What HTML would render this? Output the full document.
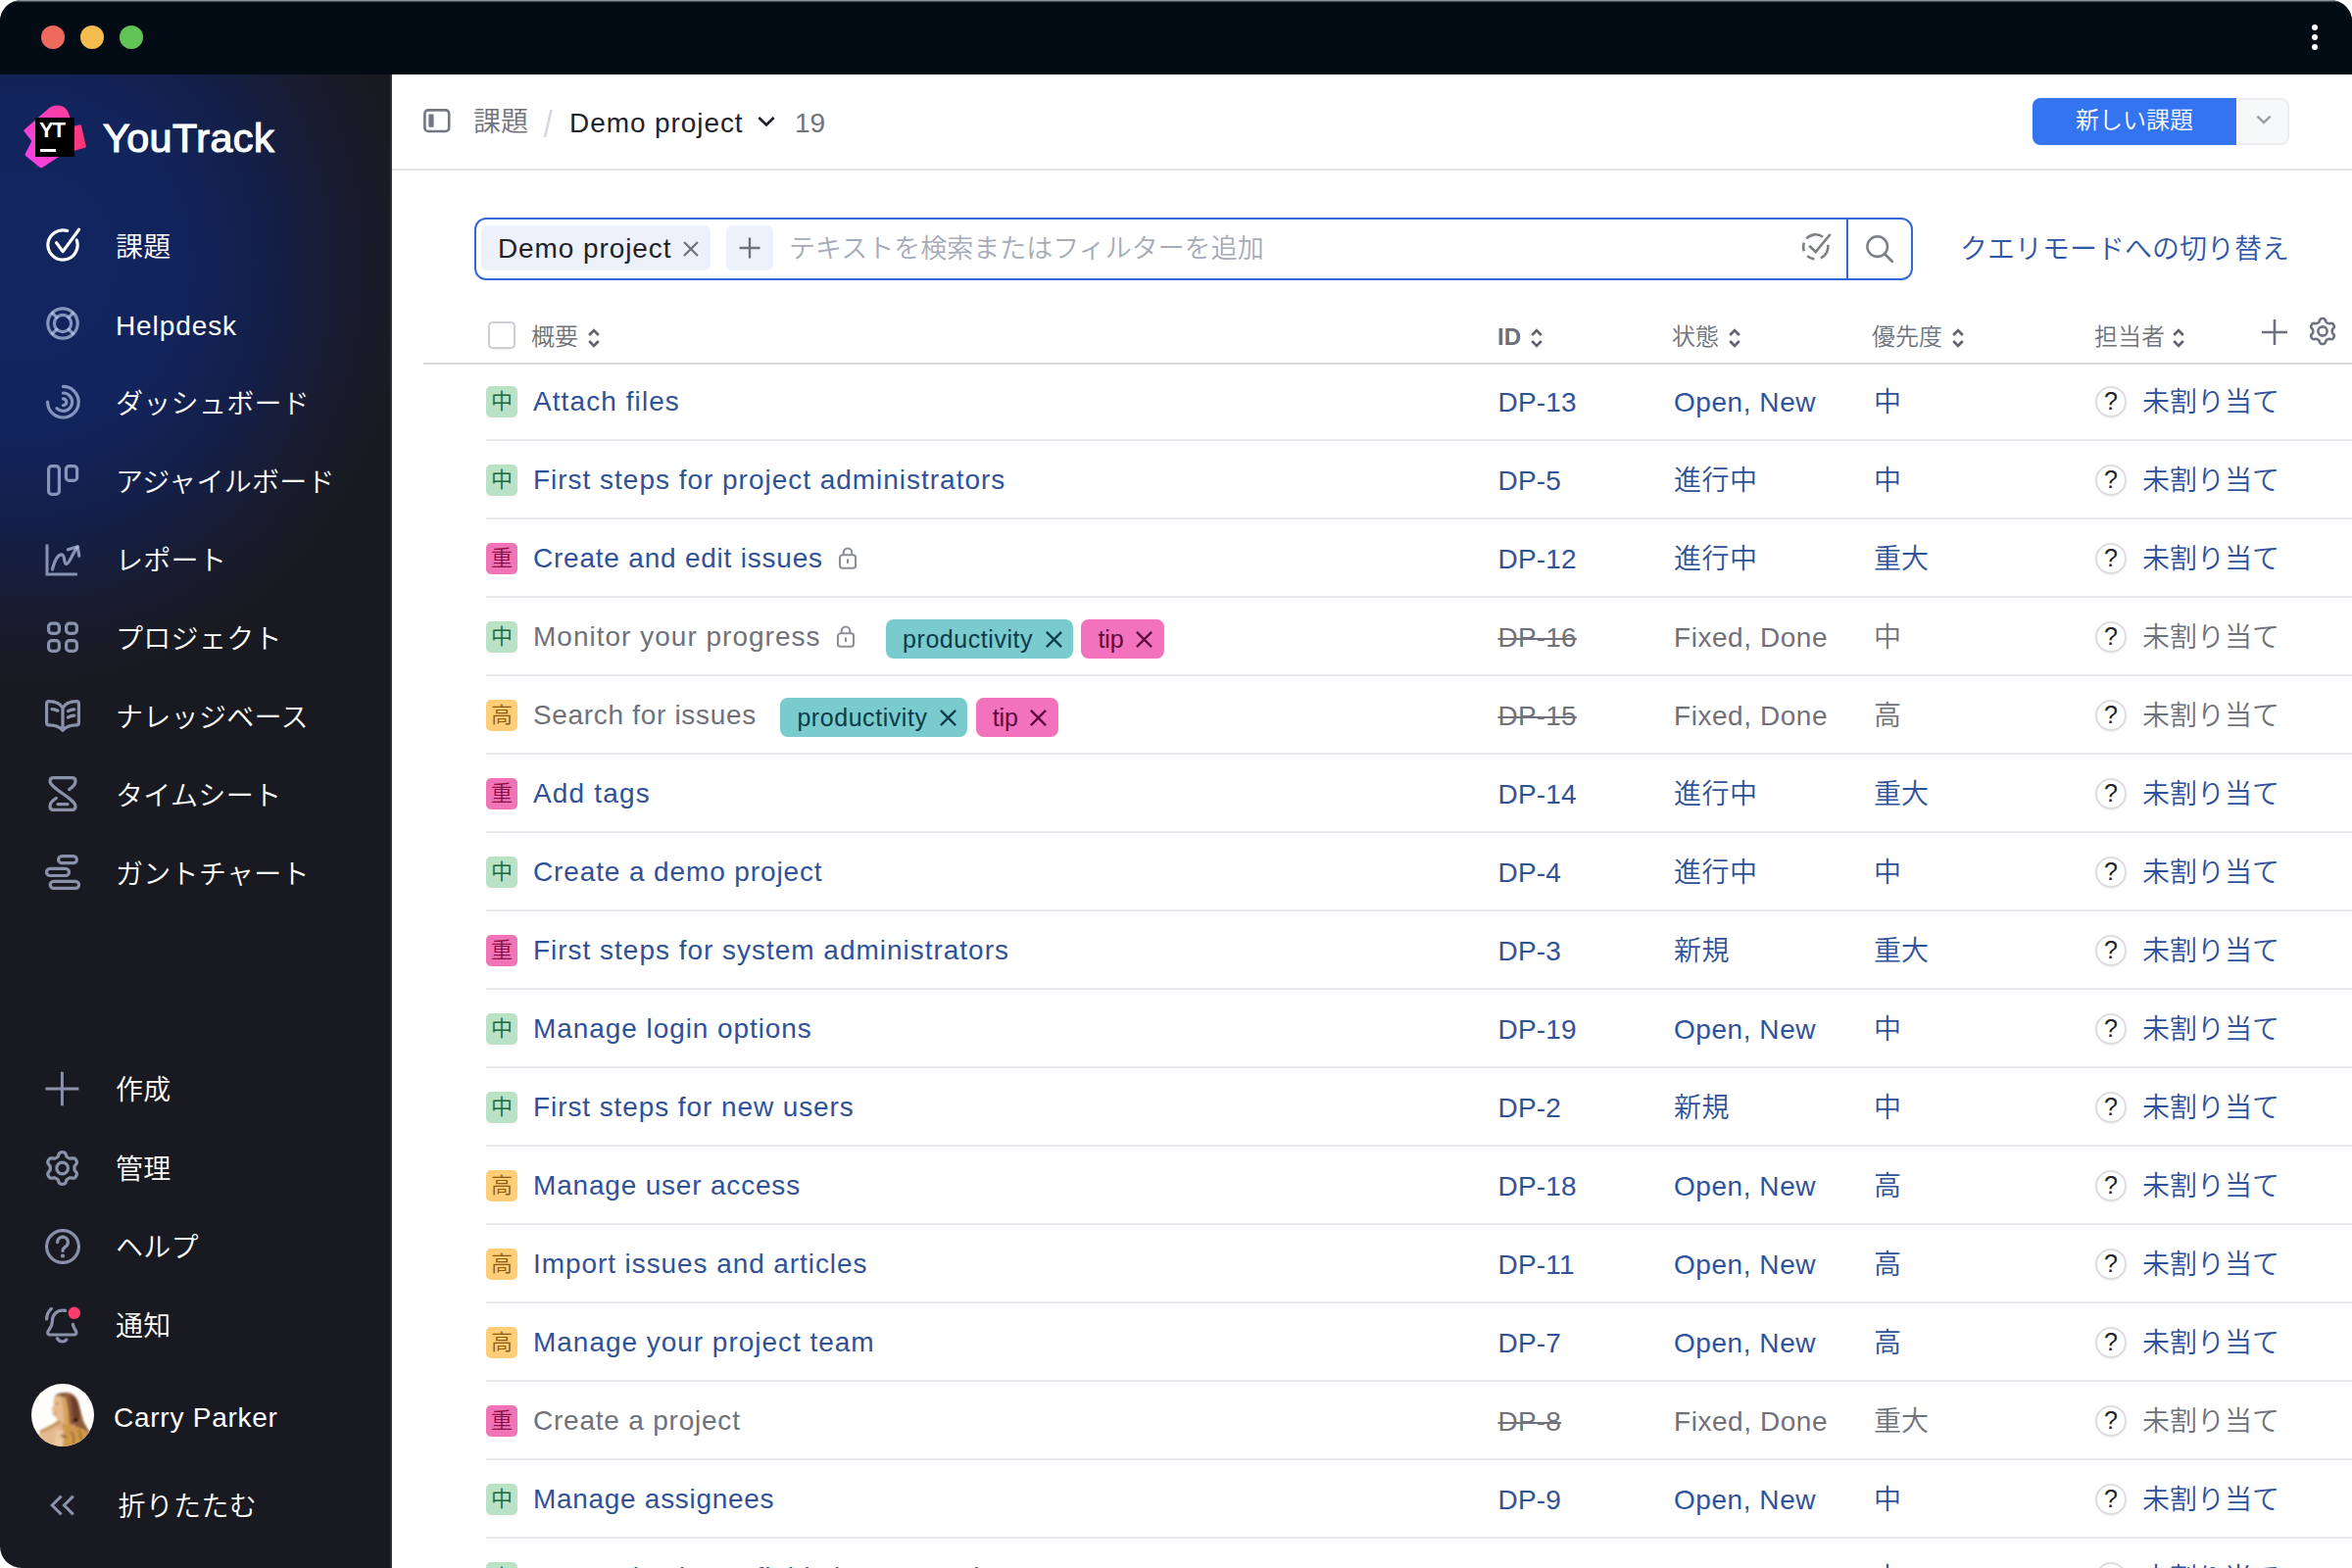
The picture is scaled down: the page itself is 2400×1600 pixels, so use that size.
<!DOCTYPE html>
<html lang="ja">
<head>
<meta charset="utf-8">
<title>YouTrack – 課題</title>
<style>
*{box-sizing:border-box;margin:0;padding:0}
html,body{width:2400px;height:1600px;overflow:hidden;background:#fff}
body{font-family:"Liberation Sans","Noto Sans CJK JP",sans-serif;font-size:28px;font-weight:350;color:#1f2329;position:relative}
.win{position:absolute;left:0;top:0;width:2400px;height:1600px;border-radius:22px 22px 0 22px;overflow:hidden;background:#fff}
.titlebar{position:absolute;left:0;top:0;width:2400px;height:76px;background:linear-gradient(#9097a0 0,#868c95 .9px,#1b232c 1.9px,#030c15 2.6px) #030c15}
.dot{position:absolute;top:26px;width:24px;height:24px;border-radius:50%}
.kebab{position:absolute;left:2358.9px;top:24.9px;width:8px;height:32px}
.kebab i{position:absolute;left:0;width:6.4px;height:6.4px;border-radius:50%;background:#fff}
.side{position:absolute;left:0;top:76px;width:400px;height:1524px;background:#191a21;overflow:hidden;z-index:2}
.side .glow{position:absolute;left:0;top:0;width:399px;height:760px;background:radial-gradient(ellipse 385px 425px at 30px 195px,#12255f 0%,#12245c 40%,#141f48 64%,#181c2f 84%,rgba(25,26,33,0) 100%)}
.side .edge{position:absolute;right:0;top:0;width:2px;height:100%;background:linear-gradient(90deg,#2b2c34,#3a3b43)}
.nav{position:absolute;left:0;width:399px;height:60px;color:#fff;font-size:28px;line-height:60px;white-space:nowrap}
.nav svg{position:absolute;left:44px;top:10px;width:40px;height:40px;color:rgba(190,204,236,.68);overflow:visible}
.nav.act svg{color:#fff}
.nav span{position:absolute;left:118px;top:2.5px;letter-spacing:.3px}
.nav .lat{letter-spacing:.9px}
.logo{position:absolute;left:20px;top:26px;width:76px;height:76px}
.brand{position:absolute;left:105px;top:38.5px;font-size:41.3px;font-weight:normal;color:#fff;letter-spacing:.45px;line-height:52px;-webkit-text-stroke:1.2px #fff}
.main{position:absolute;left:399px;top:76px;width:2001px;height:1524px;background:#fff}
.hdr{position:absolute;left:0;top:0;width:2001px;height:98px;border-bottom:2px solid #e3e4e8}
.abs{position:absolute;white-space:nowrap}
.btn{position:absolute;left:1675px;top:24px;width:208px;height:48px;background:#3574f0;color:#fff;border-radius:8px 0 0 8px;font-size:24px;line-height:46px;text-align:center}
.btn2{position:absolute;left:1885px;top:24px;width:52px;height:48px;background:#f7f8fa;border:2px solid #ebecf0;border-left:0;border-radius:0 8px 8px 0}
.search{position:absolute;left:85px;top:146px;width:1468px;height:64px;border:2px solid #3369d6;border-radius:12px;background:#fff}
.search .div{position:absolute;left:1398px;top:0;width:2px;height:60px;background:#3369d6}
.chip{position:absolute;top:7px;height:46px;background:#edf1fb;border-radius:6px}
.ph{position:absolute;left:319px;top:0;line-height:60px;color:#a6abb8;font-size:27px;white-space:nowrap}
.qm{position:absolute;left:1601px;top:147px;line-height:64px;color:#2f57a6;font-size:28px;white-space:nowrap}
.th{position:absolute;top:244px;line-height:48px;font-size:24px;color:#70737a;white-space:nowrap}
.th svg{position:absolute;top:14px;width:14px;height:22px}
.cb{position:absolute;left:99.3px;top:252.3px;width:27.4px;height:27.4px;border:2px solid #cdced4;border-radius:5px;background:#fff;box-shadow:0 1px 2px rgba(0,0,0,.08)}
.hline{position:absolute;left:33px;top:294px;width:1968px;height:2px;background:#dcdde3}
.row{position:absolute;left:0;width:2001px;height:80px;line-height:81.2px;font-size:28px;color:#2f5299;white-space:nowrap}
.row.res{color:#6f727a}
.row .sep{position:absolute;left:97px;top:78px;width:1904px;height:2px;background:#e9e9ef}
.badge{position:absolute;left:97px;top:24px;width:32px;height:32px;border-radius:5px;font-size:22px;line-height:31px;text-align:center}
.bm{background:#b9e2c6;color:#1d6534}
.bc{background:#f274b8;color:#8a0f45}
.bh{background:#ffce76;color:#8a5912}
.sum{position:absolute;left:145px;top:0;height:80px;display:flex;align-items:center}
.ttl{letter-spacing:.85px}
.lock{margin-left:14px;margin-right:6px;color:#8b8e99;position:relative;top:0px}
.tag{display:inline-flex;align-items:center;height:40px;border-radius:8px;font-size:25px;line-height:40px;padding:0 11.5px 0 17px;margin-left:8.3px;letter-spacing:.55px;position:relative;top:2px}
.tag.f{margin-left:24.5px}
.tag .tx{margin-left:12.5px;position:relative;top:.5px}
.tp{background:#79cbce;color:#0d3b4a}
.tt{background:#f272bd;color:#5e0a3f;letter-spacing:-.1px}
.cid{position:absolute;left:1129.5px;letter-spacing:.2px}
.res .cid{text-decoration:line-through;text-decoration-thickness:2px}
.cst{position:absolute;left:1309px;letter-spacing:.55px}
.cpr{position:absolute;left:1513px}
.av{position:absolute;left:1739px;top:24px;width:32px;height:32px;border-radius:50%;border:2px solid #dcdde3;color:#1f2329;font-size:25px;font-weight:400;line-height:27px;text-align:center;background:#fff;box-shadow:0 1px 2px rgba(0,0,0,.06)}
.cas{position:absolute;left:1787px}
</style>
</head>
<body>
<div class="win">
 <div class="titlebar">
  <i class="dot" style="left:42px;background:#ee6a5f"></i>
  <i class="dot" style="left:82px;background:#f5bd4f"></i>
  <i class="dot" style="left:122px;background:#61c454"></i>
  <div class="kebab"><i style="top:0"></i><i style="top:10px"></i><i style="top:20px"></i></div>
 </div>

 <div class="side">
  <div class="glow"></div><div class="edge"></div>
  <svg class="logo" viewBox="0 0 76 76">
   <defs><linearGradient id="lg" x1="0" y1="1" x2="1" y2="0"><stop offset="0" stop-color="#f342ea"/><stop offset=".5" stop-color="#f73fc4"/><stop offset="1" stop-color="#fc3c9c"/></linearGradient>
   <linearGradient id="lg2" x1="0" y1="0" x2="1" y2="1"><stop offset="0" stop-color="#fd3a8e"/><stop offset="1" stop-color="#ff3570"/></linearGradient></defs>
   <path d="M55 27 L61.2 25.3 Q62.6 25 63 26.4 L67.8 47 Q68.1 48.3 66.8 48.7 L55 52 Z" fill="url(#lg2)"/>
   <path d="M4.6 30.4 L28.4 9.8 Q33 5.6 38.6 5.6 Q47 5.8 50 13.6 L52 20 L40 58 L23.6 68.8 Q21.8 70 20.2 68.6 L6.2 57 Q5.2 56 5.8 54.8 L11.8 43 Q12.4 42 11.8 41.2 L4.4 31.8 Q3.9 31 4.6 30.4 Z" fill="url(#lg)"/>
   <rect x="16" y="18" width="40" height="40" fill="#000"/>
   <text x="20" y="38" font-family="Liberation Sans, sans-serif" font-weight="bold" font-size="22" fill="#fff" letter-spacing="-1.1">YT</text>
   <rect x="21" y="50" width="16" height="3" fill="#fff"/>
  </svg>
  <div class="brand">YouTrack</div>

  <div class="nav act" style="top:144px"><svg viewBox="0 0 40 40"><path d="M34.3 15.1 A15.1 15.1 0 1 1 24.7 5.6" fill="none" stroke="currentColor" stroke-width="3.2" stroke-linecap="round" stroke-linejoin="round"/><path d="M13.6 17.8 L20.1 26.6 L36.6 4.2" fill="none" stroke="currentColor" stroke-width="3.2" stroke-linecap="round" stroke-linejoin="round"/></svg><span>課題</span></div>
<div class="nav" style="top:224px"><svg viewBox="0 0 40 40"><circle cx="20" cy="20" r="15.2" fill="none" stroke="currentColor" stroke-width="3.2" stroke-linecap="round" stroke-linejoin="round"/><circle cx="20" cy="20" r="8.6" fill="none" stroke="currentColor" stroke-width="3.2" stroke-linecap="round" stroke-linejoin="round"/><path d="M13.9 13.9 L9.6 9.6 M26.1 13.9 L30.4 9.6 M13.9 26.1 L9.6 30.4 M26.1 26.1 L30.4 30.4" fill="none" stroke="currentColor" stroke-width="3.2" stroke-linecap="round" stroke-linejoin="round"/></svg><span class="lat">Helpdesk</span></div>
<div class="nav" style="top:304px"><svg viewBox="0 0 40 40"><path d="M20.4 4.4 A15.8 15.8 0 1 1 4.6 20.2" fill="none" stroke="currentColor" stroke-width="3.2" stroke-linecap="round" stroke-linejoin="round"/><path d="M20.4 11 A9.2 9.2 0 1 1 13.9 26.7" fill="none" stroke="currentColor" stroke-width="3.2" stroke-linecap="round" stroke-linejoin="round"/><path d="M20.4 16.8 A3.4 3.4 0 0 1 20.4 23.6" fill="none" stroke="currentColor" stroke-width="3.2" stroke-linecap="round" stroke-linejoin="round"/></svg><span>ダッシュボード</span></div>
<div class="nav" style="top:384px"><svg viewBox="0 0 40 40"><rect x="5.6" y="5.6" width="10.8" height="28.8" rx="3.2" fill="none" stroke="currentColor" stroke-width="3.2" stroke-linecap="round" stroke-linejoin="round"/><rect x="23.4" y="5.6" width="11.2" height="14.8" rx="3.2" fill="none" stroke="currentColor" stroke-width="3.2" stroke-linecap="round" stroke-linejoin="round"/></svg><span>アジャイルボード</span></div>
<div class="nav" style="top:464px"><svg viewBox="0 0 40 40"><path d="M4 5.4 V36 H34.8" fill="none" stroke="currentColor" stroke-width="3" stroke-linecap="butt" stroke-linejoin="miter"/><path d="M9.4 31 C11.6 22.6 14.6 15.8 18.8 15.8 C23 15.8 20.4 25.6 24 25.4 C27.2 24.8 29.8 14.4 35 8.2" fill="none" stroke="currentColor" stroke-width="3.2" stroke-linecap="round" stroke-linejoin="round"/><path d="M25.4 10.8 L35.2 7.8 L36.8 17.2" fill="none" stroke="currentColor" stroke-width="3.2" stroke-linecap="round" stroke-linejoin="round"/></svg><span>レポート</span></div>
<div class="nav" style="top:544px"><svg viewBox="0 0 40 40"><rect x="5.6" y="6.2" width="10.8" height="10.2" rx="3.4" fill="none" stroke="currentColor" stroke-width="3.2" stroke-linecap="round" stroke-linejoin="round"/><rect x="23.6" y="6.2" width="10.8" height="10.2" rx="3.4" fill="none" stroke="currentColor" stroke-width="3.2" stroke-linecap="round" stroke-linejoin="round"/><rect x="5.6" y="23.6" width="10.8" height="10.8" rx="3.4" fill="none" stroke="currentColor" stroke-width="3.2" stroke-linecap="round" stroke-linejoin="round"/><rect x="23.6" y="23.6" width="10.8" height="10.8" rx="3.4" fill="none" stroke="currentColor" stroke-width="3.2" stroke-linecap="round" stroke-linejoin="round"/></svg><span>プロジェクト</span></div>
<div class="nav" style="top:624px"><svg viewBox="0 0 40 40"><path d="M20 12.5 C17.5 7.5 12 5.6 6 5.6 Q3.6 5.6 3.6 8 V27.4 Q3.6 29.8 6 29.8 C12 29.8 17 31.4 20 35.2 C23 31.4 28 29.8 34 29.8 Q36.4 29.8 36.4 27.4 V8 Q36.4 5.6 34 5.6 C28 5.6 22.5 7.5 20 12.5 Z M20 12.5 V34" fill="none" stroke="currentColor" stroke-width="3.2" stroke-linecap="round" stroke-linejoin="round"/><path d="M9 13.6 q3.2 .2 6 1.6 M25.4 15.6 q3-1.6 6.4-1.8 M25.4 22 q3-1.6 6.4-1.8" fill="none" stroke="currentColor" stroke-width="3.2" stroke-linecap="round" stroke-linejoin="round" stroke-width="2.8"/></svg><span>ナレッジベース</span></div>
<div class="nav" style="top:704px"><svg viewBox="0 0 40 40"><path d="M10.4 3.6 H29.6 Q33 3.6 33 7 C33 11.4 29.6 13.6 26.6 15.6 M10.4 3.6 Q7 3.6 7 7 C7 14.6 33 25 33 32.8 Q33 36.4 29.6 36.4 H10.4 Q7 36.4 7 32.8 C7 28.6 10.2 26.4 13.4 24.4 M15 30.6 H25" fill="none" stroke="currentColor" stroke-width="3.2" stroke-linecap="round" stroke-linejoin="round"/></svg><span>タイムシート</span></div>
<div class="nav" style="top:784px"><svg viewBox="0 0 40 40"><rect x="15.6" y="3.6" width="18.8" height="7.1" rx="3.55" fill="none" stroke="currentColor" stroke-width="3.2" stroke-linecap="round" stroke-linejoin="round"/><rect x="3.5" y="16.4" width="23" height="7.1" rx="3.55" fill="none" stroke="currentColor" stroke-width="3.2" stroke-linecap="round" stroke-linejoin="round"/><rect x="7.2" y="29.3" width="29.4" height="7.1" rx="3.55" fill="none" stroke="currentColor" stroke-width="3.2" stroke-linecap="round" stroke-linejoin="round"/></svg><span>ガントチャート</span></div>
<div class="nav" style="top:1005px"><svg viewBox="0 0 40 40"><path d="M19.4 2.8 V37.2 M2.4 20 H36.4" fill="none" stroke="currentColor" stroke-width="3" stroke-linecap="butt" stroke-linejoin="miter"/></svg><span style="top:1.5px">作成</span></div>
<div class="nav" style="top:1086px"><svg viewBox="0 0 40 40"><path d="M31.90 20.00 L31.90 20.54 L31.93 21.08 L32.01 21.63 L32.23 22.23 L32.70 22.90 L33.41 23.70 L34.08 24.57 L34.43 25.40 L34.46 26.16 L34.30 26.86 L34.04 27.52 L33.72 28.15 L33.33 28.75 L32.89 29.31 L32.36 29.79 L31.69 30.14 L30.80 30.26 L29.71 30.11 L28.66 29.89 L27.84 29.82 L27.22 29.93 L26.70 30.14 L26.22 30.39 L25.75 30.65 L25.29 30.92 L24.83 31.22 L24.39 31.56 L23.99 32.05 L23.63 32.79 L23.30 33.81 L22.89 34.82 L22.34 35.54 L21.70 35.95 L21.01 36.16 L20.31 36.27 L19.60 36.30 L18.89 36.27 L18.19 36.16 L17.50 35.95 L16.86 35.54 L16.31 34.82 L15.90 33.81 L15.57 32.79 L15.21 32.05 L14.81 31.56 L14.37 31.22 L13.91 30.92 L13.45 30.65 L12.98 30.39 L12.50 30.14 L11.98 29.93 L11.36 29.82 L10.54 29.89 L9.49 30.11 L8.40 30.26 L7.51 30.14 L6.84 29.79 L6.31 29.31 L5.87 28.75 L5.48 28.15 L5.16 27.52 L4.90 26.86 L4.74 26.16 L4.77 25.40 L5.12 24.57 L5.79 23.70 L6.50 22.90 L6.97 22.23 L7.19 21.63 L7.27 21.08 L7.30 20.54 L7.30 20.00 L7.30 19.46 L7.27 18.92 L7.19 18.37 L6.97 17.77 L6.50 17.10 L5.79 16.30 L5.12 15.43 L4.77 14.60 L4.74 13.84 L4.90 13.14 L5.16 12.48 L5.48 11.85 L5.87 11.25 L6.31 10.69 L6.84 10.21 L7.51 9.86 L8.40 9.74 L9.49 9.89 L10.54 10.11 L11.36 10.18 L11.98 10.07 L12.50 9.86 L12.98 9.61 L13.45 9.35 L13.91 9.08 L14.37 8.78 L14.81 8.44 L15.21 7.95 L15.57 7.21 L15.90 6.19 L16.31 5.18 L16.86 4.46 L17.50 4.05 L18.19 3.84 L18.89 3.73 L19.60 3.70 L20.31 3.73 L21.01 3.84 L21.70 4.05 L22.34 4.46 L22.89 5.18 L23.30 6.19 L23.63 7.21 L23.99 7.95 L24.39 8.44 L24.83 8.78 L25.29 9.08 L25.75 9.35 L26.22 9.61 L26.70 9.86 L27.22 10.07 L27.84 10.18 L28.66 10.11 L29.71 9.89 L30.80 9.74 L31.69 9.86 L32.36 10.21 L32.89 10.69 L33.33 11.25 L33.72 11.85 L34.04 12.48 L34.30 13.14 L34.46 13.84 L34.43 14.60 L34.08 15.43 L33.41 16.30 L32.70 17.10 L32.23 17.77 L32.01 18.37 L31.93 18.92 L31.90 19.46Z" fill="none" stroke="currentColor" stroke-width="3.2" stroke-linecap="round" stroke-linejoin="round"/><circle cx="19.6" cy="20" r="5.8" fill="none" stroke="currentColor" stroke-width="3.2" stroke-linecap="round" stroke-linejoin="round"/></svg><span style="top:1.5px">管理</span></div>
<div class="nav" style="top:1166px"><svg viewBox="0 0 40 40"><circle cx="20" cy="20" r="16.4" fill="none" stroke="currentColor" stroke-width="3.2" stroke-linecap="round" stroke-linejoin="round"/><path d="M14.6 15.6 a5.4 5.4 0 1 1 8.2 4.6 c-2 1.3 -2.8 2.2 -2.8 4.2" fill="none" stroke="currentColor" stroke-width="3.2" stroke-linecap="round" stroke-linejoin="round"/><circle cx="20" cy="29.6" r="2.1" fill="currentColor"/></svg><span style="top:1.5px">ヘルプ</span></div>
<div class="nav" style="top:1246px"><svg viewBox="0 0 40 40"><path d="M22.6 5.4 C14 3.8 9.4 9.6 9.4 16 C9.4 22 6.4 23.6 5 26.4 Q3.6 30 7.6 30 H31 Q35 30 33.6 26.4 C32.4 24 30.8 22.8 30.4 19.4" fill="none" stroke="currentColor" stroke-width="3.2" stroke-linecap="round" stroke-linejoin="round"/><path d="M14.4 33.6 q1.6 3.4 5.4 3.4 q2.6 0 4-2" fill="none" stroke="currentColor" stroke-width="3.2" stroke-linecap="round" stroke-linejoin="round"/><path d="M8.4 3.4 Q3.8 7.6 3.6 14" fill="none" stroke="currentColor" stroke-width="3.2" stroke-linecap="round" stroke-linejoin="round"/><circle cx="31.8" cy="7.8" r="6.2" fill="#ff3b6b"/></svg><span style="top:1.5px">通知</span></div>
<div class="nav" style="top:1430px"><svg viewBox="0 0 40 40"><path d="M18.6 10.6 L9.2 20 L18.6 29.4 M30.8 10.6 L21.4 20 L30.8 29.4" fill="none" stroke="currentColor" stroke-width="3" stroke-linecap="butt" stroke-linejoin="miter"/></svg><span style="top:1.5px;left:120.5px">折りたたむ</span></div>
<svg class="avatar" viewBox="0 0 64 64" style="position:absolute;left:32px;top:1336px;width:64px;height:64px">
<defs><clipPath id="avc"><circle cx="32" cy="32" r="32"/></clipPath>
<filter id="avb" x="-20%" y="-20%" width="140%" height="140%"><feGaussianBlur stdDeviation="0.9"/></filter></defs>
<g clip-path="url(#avc)">
<rect width="64" height="64" fill="#fefdfc"/>
<g filter="url(#avb)">
<path d="M8 49 Q20 45 30 42 L46 48 L50 68 L6 68 Z" fill="#e7b98f"/>
<path d="M22 68 L27 44 L40 46 L42 68Z" fill="#efc9a5"/>
<path d="M27 35 L35 35 L37 48 L26 47Z" fill="#e2b187"/>
<path d="M23.6 13 Q27 8.4 36 9 Q45 9.6 48 19 Q50 27 53 38 Q56 44 60.5 51 L52 61 Q46 50 44 42 Q38 44 34 36 L34 16 Z" fill="#8d5b3a"/>
<path d="M40 12 Q47 14 49 26 Q50 34 47 40 Q43 38 42 30 Q41 20 40 12Z" fill="#6c3f29"/>
<path d="M23.6 13 Q30 10.6 34.5 16 L34.5 36 Q31 40 27.2 36.6 L24 33.4 L22.4 31 L23 29 L20.3 27 L22.6 22 Q22.4 17 23.6 13Z" fill="#e8ba8e"/>
<path d="M30 13.6 Q33 24 33 36 Q36 46 35 58 L44 63 Q40 48 38.6 38 Q38 24 35 13.6Z" fill="#d6a45c"/>
<path d="M31 41 Q40 40 46 44 Q54 46 60 51 Q56 61 46 66 L31 66 Q35 53 31 41Z" fill="#cf9a4b"/>
<path d="M28.4 36.6 Q20 43 8.6 47.6 L9.6 50 Q22 46.4 30.4 40Z" fill="#c89a5c"/>
<path d="M40 49 Q45 53 42.6 61 M48 47 Q52 52 50 58" stroke="#a06c2e" stroke-width="2" fill="none"/>
<path d="M30 52 Q33 55 36 54" stroke="#8a5a2c" stroke-width="2" fill="none"/>
<ellipse cx="45" cy="37" rx="2.5" ry="1.9" fill="#1a0e09"/>
<ellipse cx="26.2" cy="20.2" rx="1.1" ry=".8" fill="#5e3b27"/>
<path d="M21.6 30.6 L25 30.2" stroke="#9c5a44" stroke-width="1" fill="none"/>
</g></g></svg>
<div class="abs lat" style="left:116px;top:1340.5px;line-height:60px;color:#fff;font-size:28px;letter-spacing:.75px">Carry Parker</div>
 </div>

 <div class="main">
  <div class="hdr">
   
<svg class="abs" style="left:33px;top:34px" width="30" height="28" viewBox="0 0 30 28"><rect x="1.4" y="2.4" width="24.8" height="21.6" rx="3.6" fill="none" stroke="#737784" stroke-width="2.6"/><rect x="5.4" y="6.6" width="5.2" height="13.2" rx="1" fill="#737784"/></svg>
<div class="abs" style="left:84px;top:19px;line-height:60px;color:#71747b">課題</div>
<div class="abs" style="left:154.5px;top:21px;line-height:60px;color:#d6d8de;font-size:38px;font-weight:300;transform:scaleX(.86)">/</div>
<div class="abs" style="left:182px;top:20px;line-height:60px;color:#1f2329;letter-spacing:.92px">Demo project</div>
<svg class="abs" style="left:373px;top:41px" width="20" height="14" viewBox="0 0 20 14"><path d="M2.4 3 L10 10.4 L17.6 3" fill="none" stroke="#1f2329" stroke-width="2.8"/></svg>
<div class="abs" style="left:412px;top:20px;line-height:60px;color:#71747b">19</div>
<div class="btn">新しい課題</div>
<div class="btn2"><svg class="abs" style="left:17px;top:14px" width="18" height="12" viewBox="0 0 18 12"><path d="M2.4 2.6 L9 9 L15.6 2.6" fill="none" stroke="#9a9eab" stroke-width="2.4"/></svg></div>

  </div>
  
<div class="search">
 <div class="chip" style="left:5px;top:6px;width:234px"><span class="abs" style="left:17px;top:0;line-height:47px;letter-spacing:.9px;color:#1f2329">Demo project</span>
  <svg class="abs" style="left:205px;top:15px" width="18" height="18" viewBox="0 0 18 18"><path d="M2 2 L16 16 M16 2 L2 16" stroke="#6e7280" stroke-width="2.2" fill="none"/></svg></div>
 <div class="chip" style="left:255px;top:6px;width:48px"><svg class="abs" style="left:12px;top:11px" width="24" height="24" viewBox="0 0 24 24"><path d="M12 1.5 V22.5 M1.5 12 H22.5" stroke="#6e7280" stroke-width="2.4" fill="none"/></svg></div>
 <div class="ph">テキストを検索またはフィルターを追加</div>
 <svg class="abs" style="left:1350px;top:12px" width="36" height="36" viewBox="0 0 36 36"><path d="M7.3 7.5 A12.6 12.6 0 0 1 24.1 5.7 M29.1 13.7 A12.6 12.6 0 0 1 21.8 27.4 M15.4 28.4 A12.6 12.6 0 0 1 8.1 25.1 M4.9 20.2 A12.6 12.6 0 0 1 4.9 11.6" fill="none" stroke="#7e8088" stroke-width="2.6"/><path d="M10.2 14.8 L16.7 21 L31.7 3" fill="none" stroke="#7e8088" stroke-width="2.7"/></svg>
 <div class="div"></div>
 <svg class="abs" style="left:1414px;top:12px" width="36" height="36" viewBox="0 0 36 36"><circle cx="15.7" cy="15.6" r="10.3" fill="none" stroke="#7e8088" stroke-width="2.6"/><path d="M23.2 23.2 L30.8 30.8" stroke="#7e8088" stroke-width="2.8" stroke-linecap="round"/></svg>
</div>
<div class="qm">クエリモードへの切り替え</div>

  <div class="cb"></div><div class="th" style="left:143px">概要</div><div class="th" style="left:200px"><svg viewBox="0 0 14 22"><path d="M2.2 8 L7 3.2 L11.8 8 M2.2 14 L7 18.8 L11.8 14" fill="none" stroke="#5e626e" stroke-width="2.6"/></svg></div><div class="th" style="left:1129px;font-weight:bold;color:#6b6f7b">ID</div><div class="th" style="left:1162px"><svg viewBox="0 0 14 22"><path d="M2.2 8 L7 3.2 L11.8 8 M2.2 14 L7 18.8 L11.8 14" fill="none" stroke="#5e626e" stroke-width="2.6"/></svg></div><div class="th" style="left:1307px">状態</div><div class="th" style="left:1364px"><svg viewBox="0 0 14 22"><path d="M2.2 8 L7 3.2 L11.8 8 M2.2 14 L7 18.8 L11.8 14" fill="none" stroke="#5e626e" stroke-width="2.6"/></svg></div><div class="th" style="left:1511px">優先度</div><div class="th" style="left:1592px"><svg viewBox="0 0 14 22"><path d="M2.2 8 L7 3.2 L11.8 8 M2.2 14 L7 18.8 L11.8 14" fill="none" stroke="#5e626e" stroke-width="2.6"/></svg></div><div class="th" style="left:1738px">担当者</div><div class="th" style="left:1817px"><svg viewBox="0 0 14 22"><path d="M2.2 8 L7 3.2 L11.8 8 M2.2 14 L7 18.8 L11.8 14" fill="none" stroke="#5e626e" stroke-width="2.6"/></svg></div><svg class="abs" style="left:1908px;top:249px" width="28" height="28" viewBox="0 0 28 28"><path d="M14 1 V27 M1 14 H27" stroke="#6e7280" stroke-width="2.6" fill="none"/></svg><svg class="abs" style="left:1955px;top:246px" width="32" height="32" viewBox="0 0 32 32"><path d="M25.80 16.00 L25.80 16.43 L25.82 16.86 L25.89 17.30 L26.06 17.77 L26.44 18.31 L27.01 18.95 L27.55 19.64 L27.82 20.30 L27.85 20.91 L27.73 21.47 L27.52 22.00 L27.26 22.50 L26.95 22.98 L26.60 23.42 L26.18 23.81 L25.64 24.09 L24.93 24.18 L24.06 24.06 L23.22 23.88 L22.57 23.83 L22.07 23.91 L21.66 24.08 L21.27 24.28 L20.90 24.49 L20.53 24.70 L20.17 24.94 L19.82 25.21 L19.49 25.60 L19.22 26.20 L18.95 27.01 L18.62 27.82 L18.18 28.39 L17.67 28.72 L17.13 28.89 L16.57 28.97 L16.00 29.00 L15.43 28.97 L14.87 28.89 L14.33 28.72 L13.82 28.39 L13.38 27.82 L13.05 27.01 L12.78 26.20 L12.51 25.60 L12.18 25.21 L11.83 24.94 L11.47 24.70 L11.10 24.49 L10.73 24.28 L10.34 24.08 L9.93 23.91 L9.43 23.83 L8.78 23.88 L7.94 24.06 L7.07 24.18 L6.36 24.09 L5.82 23.81 L5.40 23.42 L5.05 22.98 L4.74 22.50 L4.48 22.00 L4.27 21.47 L4.15 20.91 L4.18 20.30 L4.45 19.64 L4.99 18.95 L5.56 18.31 L5.94 17.77 L6.11 17.30 L6.18 16.86 L6.20 16.43 L6.20 16.00 L6.20 15.57 L6.18 15.14 L6.11 14.70 L5.94 14.23 L5.56 13.69 L4.99 13.05 L4.45 12.36 L4.18 11.70 L4.15 11.09 L4.27 10.53 L4.48 10.00 L4.74 9.50 L5.05 9.02 L5.40 8.58 L5.82 8.19 L6.36 7.91 L7.07 7.82 L7.94 7.94 L8.78 8.12 L9.43 8.17 L9.93 8.09 L10.34 7.92 L10.73 7.72 L11.10 7.51 L11.47 7.30 L11.83 7.06 L12.18 6.79 L12.51 6.40 L12.78 5.80 L13.05 4.99 L13.38 4.18 L13.82 3.61 L14.33 3.28 L14.87 3.11 L15.43 3.03 L16.00 3.00 L16.57 3.03 L17.13 3.11 L17.67 3.28 L18.18 3.61 L18.62 4.18 L18.95 4.99 L19.22 5.80 L19.49 6.40 L19.82 6.79 L20.17 7.06 L20.53 7.30 L20.90 7.51 L21.27 7.72 L21.66 7.92 L22.07 8.09 L22.57 8.17 L23.22 8.12 L24.06 7.94 L24.93 7.82 L25.64 7.91 L26.18 8.19 L26.60 8.58 L26.95 9.02 L27.26 9.50 L27.52 10.00 L27.73 10.53 L27.85 11.09 L27.82 11.70 L27.55 12.36 L27.01 13.05 L26.44 13.69 L26.06 14.23 L25.89 14.70 L25.82 15.14 L25.80 15.57Z" fill="none" stroke="#6e7280" stroke-width="2.6"/><circle cx="16" cy="16" r="4.6" fill="none" stroke="#6e7280" stroke-width="2.6"/></svg><div class="hline"></div>
  <div class="row" style="top:294px"><span class="badge bm">中</span><div class="sum"><span class="ttl" style="letter-spacing:1.08px">Attach files</span></div><span class="cid">DP-13</span><span class="cst">Open, New</span><span class="cpr">中</span><span class="av">?</span><span class="cas">未割り当て</span><i class="sep"></i></div>
<div class="row" style="top:374px"><span class="badge bm">中</span><div class="sum"><span class="ttl" style="letter-spacing:0.98px">First steps for project administrators</span></div><span class="cid">DP-5</span><span class="cst">進行中</span><span class="cpr">中</span><span class="av">?</span><span class="cas">未割り当て</span><i class="sep"></i></div>
<div class="row" style="top:454px"><span class="badge bc">重</span><div class="sum"><span class="ttl" style="letter-spacing:0.78px">Create and edit issues</span><svg class="lock" viewBox="0 0 24 28" width="22" height="25.6"><rect x="3.2" y="10.2" width="17.6" height="14.6" rx="3" fill="none" stroke="currentColor" stroke-width="2.2"/><path d="M7.3 10V7.4a4.7 4.7 0 0 1 9.4 0V10" fill="none" stroke="currentColor" stroke-width="2.2"/><rect x="10.9" y="14.5" width="2.2" height="5.6" rx="1.1" fill="currentColor"/></svg></div><span class="cid">DP-12</span><span class="cst">進行中</span><span class="cpr">重大</span><span class="av">?</span><span class="cas">未割り当て</span><i class="sep"></i></div>
<div class="row res" style="top:534px"><span class="badge bm">中</span><div class="sum"><span class="ttl" style="letter-spacing:1.01px">Monitor your progress</span><svg class="lock" viewBox="0 0 24 28" width="22" height="25.6"><rect x="3.2" y="10.2" width="17.6" height="14.6" rx="3" fill="none" stroke="currentColor" stroke-width="2.2"/><path d="M7.3 10V7.4a4.7 4.7 0 0 1 9.4 0V10" fill="none" stroke="currentColor" stroke-width="2.2"/><rect x="10.9" y="14.5" width="2.2" height="5.6" rx="1.1" fill="currentColor"/></svg><span class="tag tp f"><span>productivity</span><svg class="tx" viewBox="0 0 17 17" width="17" height="17"><path d="M0.9 0.9 L16.1 16.1 M16.1 0.9 L0.9 16.1" stroke="currentColor" stroke-width="2.3" fill="none" stroke-linecap="butt"/></svg></span><span class="tag tt"><span>tip</span><svg class="tx" viewBox="0 0 17 17" width="17" height="17"><path d="M0.9 0.9 L16.1 16.1 M16.1 0.9 L0.9 16.1" stroke="currentColor" stroke-width="2.3" fill="none" stroke-linecap="butt"/></svg></span></div><span class="cid">DP-16</span><span class="cst">Fixed, Done</span><span class="cpr">中</span><span class="av">?</span><span class="cas">未割り当て</span><i class="sep"></i></div>
<div class="row res" style="top:614px"><span class="badge bh">高</span><div class="sum"><span class="ttl" style="letter-spacing:0.68px">Search for issues</span><span class="tag tp f"><span>productivity</span><svg class="tx" viewBox="0 0 17 17" width="17" height="17"><path d="M0.9 0.9 L16.1 16.1 M16.1 0.9 L0.9 16.1" stroke="currentColor" stroke-width="2.3" fill="none" stroke-linecap="butt"/></svg></span><span class="tag tt"><span>tip</span><svg class="tx" viewBox="0 0 17 17" width="17" height="17"><path d="M0.9 0.9 L16.1 16.1 M16.1 0.9 L0.9 16.1" stroke="currentColor" stroke-width="2.3" fill="none" stroke-linecap="butt"/></svg></span></div><span class="cid">DP-15</span><span class="cst">Fixed, Done</span><span class="cpr">高</span><span class="av">?</span><span class="cas">未割り当て</span><i class="sep"></i></div>
<div class="row" style="top:694px"><span class="badge bc">重</span><div class="sum"><span class="ttl" style="letter-spacing:1.16px">Add tags</span></div><span class="cid">DP-14</span><span class="cst">進行中</span><span class="cpr">重大</span><span class="av">?</span><span class="cas">未割り当て</span><i class="sep"></i></div>
<div class="row" style="top:774px"><span class="badge bm">中</span><div class="sum"><span class="ttl" style="letter-spacing:0.88px">Create a demo project</span></div><span class="cid">DP-4</span><span class="cst">進行中</span><span class="cpr">中</span><span class="av">?</span><span class="cas">未割り当て</span><i class="sep"></i></div>
<div class="row" style="top:854px"><span class="badge bc">重</span><div class="sum"><span class="ttl" style="letter-spacing:0.98px">First steps for system administrators</span></div><span class="cid">DP-3</span><span class="cst">新規</span><span class="cpr">重大</span><span class="av">?</span><span class="cas">未割り当て</span><i class="sep"></i></div>
<div class="row" style="top:934px"><span class="badge bm">中</span><div class="sum"><span class="ttl" style="letter-spacing:0.93px">Manage login options</span></div><span class="cid">DP-19</span><span class="cst">Open, New</span><span class="cpr">中</span><span class="av">?</span><span class="cas">未割り当て</span><i class="sep"></i></div>
<div class="row" style="top:1014px"><span class="badge bm">中</span><div class="sum"><span class="ttl" style="letter-spacing:0.91px">First steps for new users</span></div><span class="cid">DP-2</span><span class="cst">新規</span><span class="cpr">中</span><span class="av">?</span><span class="cas">未割り当て</span><i class="sep"></i></div>
<div class="row" style="top:1094px"><span class="badge bh">高</span><div class="sum"><span class="ttl" style="letter-spacing:0.81px">Manage user access</span></div><span class="cid">DP-18</span><span class="cst">Open, New</span><span class="cpr">高</span><span class="av">?</span><span class="cas">未割り当て</span><i class="sep"></i></div>
<div class="row" style="top:1174px"><span class="badge bh">高</span><div class="sum"><span class="ttl" style="letter-spacing:0.92px">Import issues and articles</span></div><span class="cid">DP-11</span><span class="cst">Open, New</span><span class="cpr">高</span><span class="av">?</span><span class="cas">未割り当て</span><i class="sep"></i></div>
<div class="row" style="top:1254px"><span class="badge bh">高</span><div class="sum"><span class="ttl" style="letter-spacing:0.97px">Manage your project team</span></div><span class="cid">DP-7</span><span class="cst">Open, New</span><span class="cpr">高</span><span class="av">?</span><span class="cas">未割り当て</span><i class="sep"></i></div>
<div class="row res" style="top:1334px"><span class="badge bc">重</span><div class="sum"><span class="ttl" style="letter-spacing:0.78px">Create a project</span></div><span class="cid">DP-8</span><span class="cst">Fixed, Done</span><span class="cpr">重大</span><span class="av">?</span><span class="cas">未割り当て</span><i class="sep"></i></div>
<div class="row" style="top:1414px"><span class="badge bm">中</span><div class="sum"><span class="ttl" style="letter-spacing:0.7px">Manage assignees</span></div><span class="cid">DP-9</span><span class="cst">Open, New</span><span class="cpr">中</span><span class="av">?</span><span class="cas">未割り当て</span><i class="sep"></i></div>
<div class="row" style="top:1494px"><span class="badge bm">中</span><div class="sum"><span class="ttl" style="letter-spacing:0.9px">Customize issue fields in your project</span></div><span class="cid">DP-6</span><span class="cst">Open, New</span><span class="cpr">中</span><span class="av">?</span><span class="cas">未割り当て</span><i class="sep"></i></div>
 </div>
</div>
</body>
</html>
